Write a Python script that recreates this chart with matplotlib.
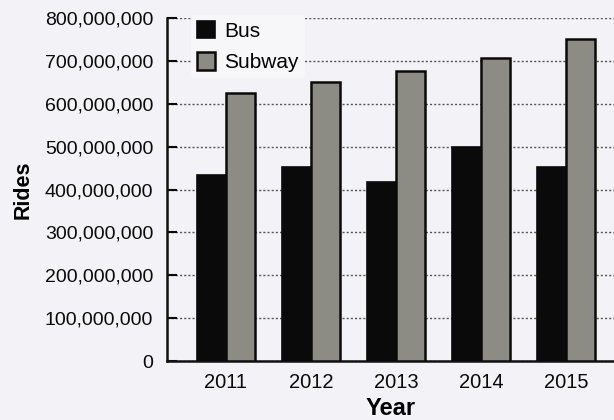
import matplotlib
matplotlib.use('Agg')
import matplotlib.pyplot as plt
from matplotlib.ticker import FuncFormatter
import numpy as np

plt.rcParams['font.family'] = ['Liberation Sans', 'DejaVu Sans']

years = ['2011', '2012', '2013', '2014', '2015']
bus = [433e6, 452e6, 417e6, 500e6, 452e6]
subway = [625e6, 650e6, 677e6, 707e6, 750e6]

bg = '#f3f3f7'
fig = plt.figure(figsize=(6.14, 4.2), dpi=100, facecolor=bg)
ax = fig.add_axes([167 / 614, 1 - 361 / 420, 1 - 167 / 614, (361 - 18) / 420])
ax.set_facecolor(bg)

x = np.arange(len(years))
w = 0.34
ax.bar(x - w / 2, bus, w, color='#0a0a0a', edgecolor='#0a0a0a', linewidth=1.2,
       label='Bus', zorder=3)
ax.bar(x + w / 2, subway, w, color='#8c8c84', edgecolor='#0a0a0a', linewidth=1.8,
       label='Subway', zorder=3)

ax.set_xlim(-0.69, 4.56)
ax.set_ylim(0, 800e6)
ax.set_yticks(np.arange(0, 800e6 + 1, 100e6))
ax.yaxis.set_major_formatter(FuncFormatter(lambda v, p: f'{int(v):,}'))
ax.set_xticks(x)
ax.set_xticklabels(years)
ax.tick_params(axis='x', length=0, labelsize=14.5, pad=9, colors='#0a0a0a')
ax.tick_params(axis='y', direction='in', length=7, width=1.5, labelsize=14,
               pad=10, colors='#0a0a0a')

ax.grid(axis='y', linestyle=(0, (1.5, 1.5)), color='#555555', linewidth=1.0, zorder=0)
for s in ['top', 'right']:
    ax.spines[s].set_visible(False)
ax.spines['left'].set_linewidth(1.8)
ax.spines['bottom'].set_linewidth(1.8)
ax.spines['left'].set_color('#111111')
ax.spines['bottom'].set_color('#111111')

ax.set_xlabel('Year', fontsize=17, fontweight='bold', labelpad=3)
ax.set_ylabel('Rides', fontsize=15.5, fontweight='bold', labelpad=8)

leg = ax.legend(loc='upper left', bbox_to_anchor=(0.03, 1.04), frameon=True,
                fontsize=15, handlelength=0.85, handleheight=0.9,
                handletextpad=0.45, labelspacing=0.55, borderpad=0.3)
leg.get_frame().set_facecolor('#f7f7fa')
leg.get_frame().set_edgecolor('none')
leg.get_frame().set_alpha(1)
leg.set_zorder(5)

plt.savefig('out.png', dpi=100, facecolor=bg)
